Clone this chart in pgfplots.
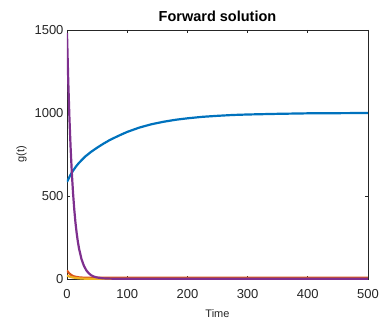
\documentclass[border=0pt]{standalone}
\usepackage{fontspec}
\setmainfont{Liberation Sans}
\usepackage{pgfplots}
\pgfplotsset{compat=1.18}

\definecolor{mblue}{rgb}{0,0.447,0.741}
\definecolor{morange}{rgb}{0.85,0.325,0.098}
\definecolor{myellow}{rgb}{0.929,0.694,0.125}
\definecolor{mpurple}{rgb}{0.494,0.184,0.556}
\definecolor{axgray}{rgb}{0.15,0.15,0.15}

\begin{document}
\begin{tikzpicture}
\begin{axis}[
  name=ax,
  scale only axis,
  width=301pt, height=249pt,
  xmin=0, xmax=500, ymin=0, ymax=1500,
  xtick={0,100,200,300,400,500},
  ytick={0,500,1000,1500},
  tick align=inside,
  major tick length=3pt,
  axis line style={axgray, line width=0.6pt},
  tick style={axgray, line width=0.6pt},
  /pgf/number format/assume math mode=true,
  /pgf/number format/1000 sep={},
  tick label style={font=\fontsize{13}{13}\selectfont, text=axgray},
  xticklabel style={yshift=-7pt},
  title={\textbf{Forward solution}},
  title style={font=\fontsize{14.5}{14.5}\selectfont, yshift=-1pt},
  xlabel={Time},
  ylabel={g(t)},
  label style={font=\fontsize{11}{11}\selectfont, text=axgray},
  xlabel style={yshift=-4pt},
  ylabel style={yshift=1pt},
  clip=true,
  every axis plot/.append style={line width=2.2pt, line join=round},
]
% logistic-type growth towards the carrying level
\addplot[mblue] coordinates {
 (0,585) (5,622) (10,652) (15,678) (20,700) (30,737) (40,766) (50,791)
 (60,814) (70,835) (80,853) (90,870) (100,886) (120,912) (140,932)
 (160,947) (180,959) (200,968) (225,977) (250,983) (275,988) (300,991)
 (350,995) (400,998) (450,999) (500,1000)
};
% second component
\addplot[morange] coordinates {
 (0,52) (2,41) (4,33) (6,27) (8,22) (10,18) (12,15.5) (15,13) (20,10)
 (25,8.5) (30,7.7) (40,7.2) (50,7) (500,7)
};
% third component
\addplot[myellow] coordinates {
 (0,20) (5,13.4) (10,9) (15,6) (20,4) (25,2.7) (30,1.8) (40,0.8)
 (50,0.4) (60,0.2) (500,0)
};
% fast-decaying component
\addplot[mpurple] coordinates {
 (0,1482) (2,1202) (4,974) (6,791) (8,641) (10,520) (12,422) (14,342)
 (16,278) (18,226) (20,183) (24,121) (28,80) (32,53) (36,35) (40,23)
 (45,14) (50,9) (60,4) (70,2.5) (80,1.6) (100,1) (500,1)
};
\end{axis}
\pgfresetboundingbox
\path[use as bounding box] ([shift={(-67pt,-45pt)}]ax.south west) rectangle ([shift={(12pt,30pt)}]ax.north east);
\end{tikzpicture}
\end{document}
